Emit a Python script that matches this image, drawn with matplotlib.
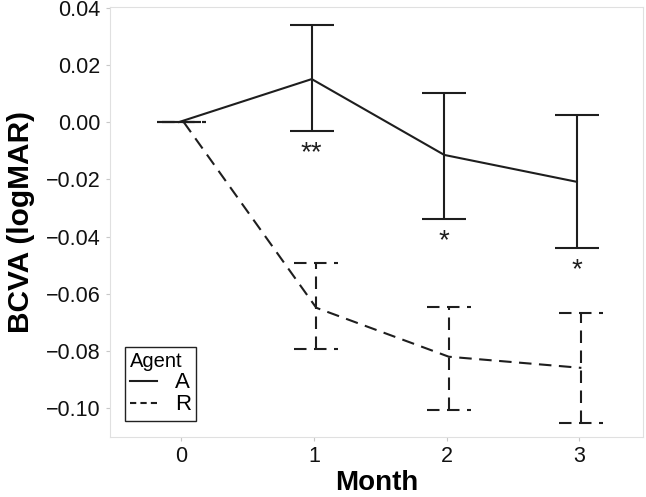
import matplotlib

matplotlib.use("Agg")
import matplotlib.pyplot as plt
from matplotlib.lines import Line2D

plt.rcParams["font.family"] = ["Liberation Sans", "DejaVu Sans"]

# values
months = [0, 1, 2, 3]
month_labels = ["0", "1", "2", "3"]
a_mean = [0.000, 0.0150, -0.0115, -0.0209]
a_upper = [0.000, 0.0339, 0.0101, 0.0024]
a_lower = [0.000, -0.0031, -0.0339, -0.0440]
r_mean = [0.000, -0.0649, -0.0820, -0.0859]
r_upper = [0.000, -0.0492, -0.0646, -0.0667]
r_lower = [0.000, -0.0792, -0.1005, -0.1051]
stars = ["", "**", "*", "*"]
y_ticks = [0.04, 0.02, 0.00, -0.02, -0.04, -0.06, -0.08, -0.10]

dodge = 0.017
cap = 0.166
color = "#1e1e1e"
dashed = (0, (6.0, 3.6))

fig = plt.figure(figsize=(6.46, 4.97), dpi=100)
ax = fig.add_axes([0.170, 0.121, 0.825, 0.865])

# R first so the solid A cap at month 0 sits on top
series = [
    (r_mean, r_upper, r_lower, dodge, dashed),
    (a_mean, a_upper, a_lower, -dodge, "solid"),
]
for mean, upper, lower, shift, ls in series:
    xs = [m + shift for m in months]
    ax.plot(xs, mean, color=color, linewidth=1.5, linestyle=ls)
    ax.vlines(xs, lower, upper, color=color, linewidth=1.5, linestyles=[ls])
    ax.hlines(upper, [x - cap for x in xs], [x + cap for x in xs],
              color=color, linewidth=1.5, linestyles=[ls])
    ax.hlines(lower, [x - cap for x in xs], [x + cap for x in xs],
              color=color, linewidth=1.5, linestyles=[ls])

for m, low, s in zip(months, a_lower, stars):
    if s:
        ax.text(m - dodge, low - 0.0032, s, ha="center", va="top", fontsize=20,
                color=color)

ax.set_xlim(-0.54, 3.48)
ax.set_ylim(-0.110, 0.0402)
ax.set_xticks(months)
ax.set_xticklabels(month_labels)
ax.set_yticks(y_ticks)
ax.set_yticklabels([f"{v:.2f}".replace("-", "\u2212") for v in y_ticks])
ax.tick_params(axis="both", labelsize=15.5, length=3, width=0.8, color="#c8c8c8", labelcolor="#111111")

for spine in ax.spines.values():
    spine.set_color("#e0e0e0")
    spine.set_linewidth(0.8)

ax.set_xlabel("Month", fontsize=20, fontweight="bold", labelpad=2)
ax.set_ylabel("BCVA (logMAR)", fontsize=21.5, fontweight="bold", labelpad=8)

handles = [
    Line2D([0], [0], color=color, linewidth=1.5, linestyle="solid"),
    Line2D([0], [0], color=color, linewidth=1.5, linestyle=(0, (3.0, 2.0))),
]
leg = ax.legend(handles, ["A", "R"], title="Agent", loc="lower left",
                bbox_to_anchor=(0.028, 0.037), borderaxespad=0, fontsize=16,
                title_fontsize=14.5, handlelength=1.2, handletextpad=0.8,
                fancybox=False, framealpha=1, edgecolor="#222222",
                borderpad=0.25, labelspacing=0.05)
leg._legend_box.align = "left"
leg.get_frame().set_linewidth(1.0)

fig.savefig("out.png", dpi=100)
